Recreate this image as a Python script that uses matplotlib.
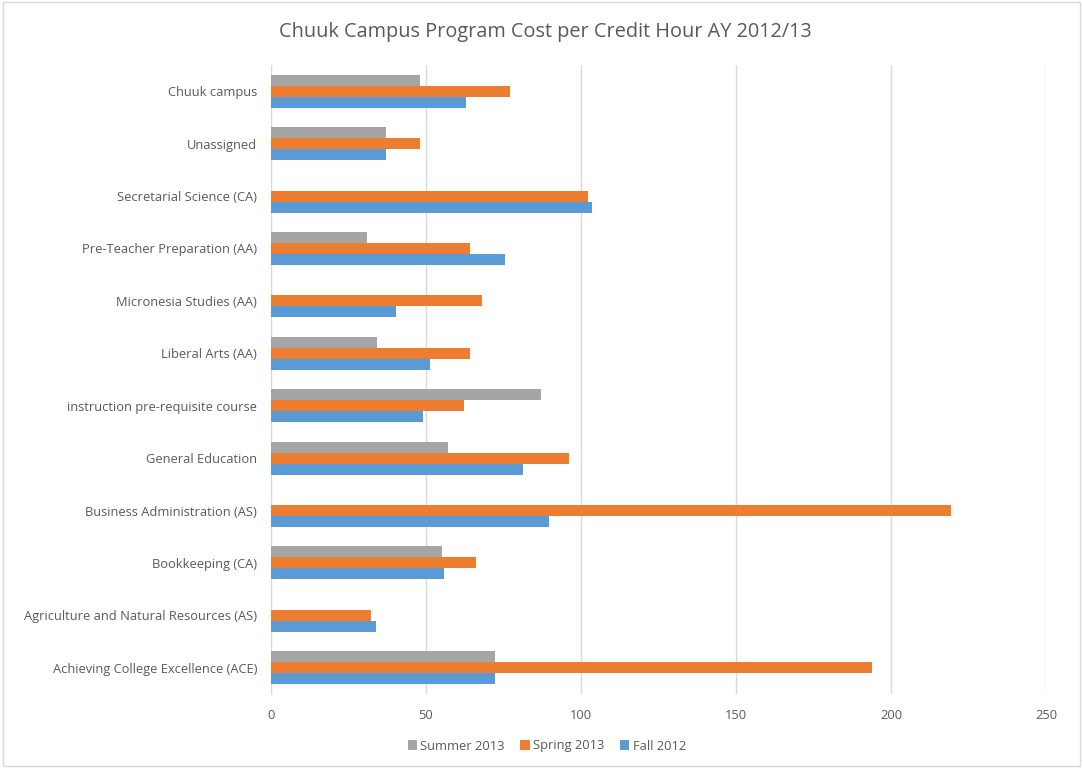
import matplotlib
matplotlib.use("Agg")
import matplotlib.pyplot as plt
import numpy as np

categories = [
    "Achieving College Excellence (ACE)",
    "Agriculture and Natural Resources (AS)",
    "Bookkeeping (CA)",
    "Business Administration (AS)",
    "General Education",
    "instruction pre-requisite course",
    "Liberal Arts (AA)",
    "Micronesia Studies (AA)",
    "Pre-Teacher Preparation (AA)",
    "Secretarial Science (CA)",
    "Unassigned",
    "Chuuk campus",
]
fall_2012 = [72.4, 33.9, 55.8, 89.7, 81.3, 49.0, 51.4, 40.3, 75.5, 103.7, 37.1, 63.0]
spring_2013 = [193.8, 32.1, 66.1, 219.2, 96.1, 62.1, 64.1, 68.1, 64.1, 102.2, 48.2, 77.1]
summer_2013 = [72.2, 0, 55.1, 0, 57.1, 87.1, 34.1, 0, 31.1, 0, 37.1, 48.2]
series_names = ["Fall 2012", "Spring 2013", "Summer 2013"]
colors = ["#5B9BD5", "#ED7D31", "#A5A5A5"]
xticks = [0, 50, 100, 150, 200, 250]

plt.rcParams['font.family'] = ['Open Sans', 'DejaVu Sans']
fig = plt.figure(figsize=(10.83, 7.68), dpi=100)
ax = fig.add_axes([271/1083, 1-694/768, (1046-271)/1083, (694-65)/768])

y = np.arange(len(categories))
h = 0.21
bars = []
for i, (vals, name, c) in enumerate(zip([fall_2012, spring_2013, summer_2013], series_names, colors)):
    b = ax.barh(y + (i - 1) * h, vals, height=h, color=c, label=name, zorder=3)
    bars.append(b)

ax.set_xlim(0, 250)
ax.set_ylim(-0.5, len(categories) - 0.5)
ax.set_xticks(xticks)
ax.set_yticks(y)
ax.set_yticklabels(categories)
ax.tick_params(axis='both', length=0, labelsize=9.3, colors="#595959")
ax.tick_params(axis='y', pad=10)
ax.tick_params(axis='x', pad=11)
ax.grid(axis='x', color="#D9D9D9", linewidth=1, zorder=0)
for s in ["top", "right", "bottom"]:
    ax.spines[s].set_visible(False)
ax.spines["left"].set_color("#D9D9D9")

fig.text(545/1083, 1-32/768, "Chuuk Campus Program Cost per Credit Hour AY 2012/13",
         ha="center", va="center", fontsize=14.3, color="#595959")

handles = [bars[2], bars[1], bars[0]]
labels = [series_names[2], series_names[1], series_names[0]]
fig.legend(handles, labels, loc="center", bbox_to_anchor=(547/1083, 1-746/768), ncol=3,
           frameon=False, fontsize=9.3, handlelength=0.7, handleheight=0.7,
           handletextpad=0.3, columnspacing=1.2, labelcolor="#595959")

border = plt.Rectangle((0.003, 0.003), 0.994, 0.994, transform=fig.transFigure,
                       fill=False, edgecolor="#D9D9D9", linewidth=1)
fig.patches.append(border)

fig.savefig("out.png", dpi=100)
